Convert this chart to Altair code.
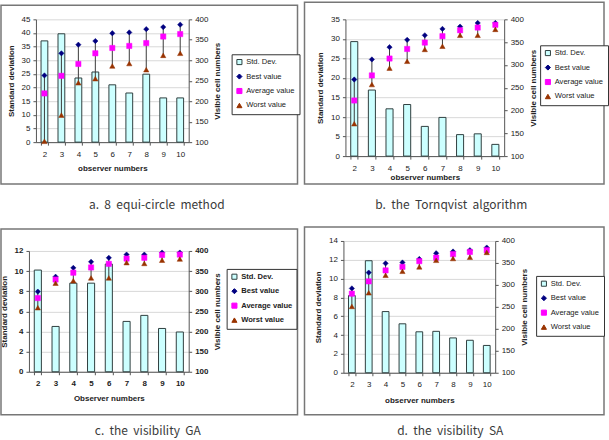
import altair as alt
import pandas as pd

FONT = "Liberation Sans"
CAPTION_FONT = "Noto Sans CJK KR"

observers = [2, 3, 4, 5, 6, 7, 8, 9, 10]

series_names = ["Std. Dev.", "Best value", "Average value", "Worst value"]
series_fill = ["#ccffff", "#000080", "#ff00ff", "#993300"]
series_stroke = ["#2f3f3f", "#000080", "#ff00ff", "#993300"]
series_shape = ["square", "diamond", "square", "triangle-up"]

# a. 8 equi-circle method
std_a = [37.1, 39.7, 23.5, 25.7, 21.0, 18.0, 24.9, 16.2, 16.2]
best_a = [263, 317, 338, 347, 366, 368, 376, 381, 387]
avg_a = [219, 262, 291, 317, 330, 335, 342, 358, 364]
worst_a = [102, 166, 245, 255, 286, 292, 277, 312, 317]

# b. the Tornqvist algorithm
std_b = [29.3, 16.9, 12.1, 13.2, 7.6, 9.9, 5.5, 5.7, 3.0]
best_b = [268, 312, 339, 355, 365, 379, 384, 392, 392]
avg_b = [222, 277, 314, 335, 349, 363, 376, 382, 388]
worst_b = [171, 257, 293, 308, 334, 341, 365, 365, 378]

# c. the visibility GA
std_c = [10.1, 4.5, 8.8, 8.8, 10.7, 5.0, 5.6, 4.3, 3.95]
best_c = [299, 336, 358, 373, 383, 391, 391, 396, 396]
avg_c = [283, 329, 346, 359, 368, 381, 383, 390, 391]
worst_c = [259, 320, 326, 333, 333, 371, 369, 377, 380]

# d. the visibility SA
std_d = [8.2, 11.9, 6.5, 5.2, 4.35, 4.4, 3.7, 3.45, 2.9]
best_d = [292, 328, 349, 351, 359, 372, 376, 379, 385]
avg_d = [280, 308, 333, 341, 354, 362, 370, 375, 379]
worst_d = [251, 282, 322, 331, 341, 356, 360, 363, 374]

right_ticks = [100, 150, 200, 250, 300, 350, 400]

NBSP = "\u00a0"


def make_panel(std, best, avg, worst, caption, W, H, plot, box, legend_xy, cap_xy,
               left_max, left_step, x_title, x_title_pad, bold=False):
    px0, py0, px1, py1 = plot
    weight = "bold" if bold else "normal"

    bars_df = pd.DataFrame({"obs": observers, "std": std, "series": series_names[0]})
    range_df = pd.DataFrame({"obs": observers, "best": best, "worst": worst})
    pts_df = pd.DataFrame({
        "obs": observers * 3,
        "value": best + avg + worst,
        "series": [series_names[1]] * 9 + [series_names[2]] * 9 + [series_names[3]] * 9,
    })

    x_scale = alt.Scale(domain=observers, range=[px0, px1], paddingInner=0.6, paddingOuter=0.3)
    left_scale = alt.Scale(domain=[0, left_max], range=[py1, py0], nice=False, zero=True)
    right_scale = alt.Scale(domain=[100, 400], range=[py1, py0], nice=False, zero=False)

    legend = alt.Legend(
        title=None, orient="none", legendX=legend_xy[0], legendY=legend_xy[1],
        strokeColor="#333333", fillColor="white", padding=4, cornerRadius=0,
        labelFont=FONT, labelFontSize=7.6, labelFontWeight=weight, labelColor="#222222",
        labelLimit=200, labelOffset=3, symbolSize=26, symbolStrokeWidth=1, rowPadding=4.5,
    )
    color = alt.Color("series:N", scale=alt.Scale(domain=series_names, range=series_fill), legend=legend)
    stroke = alt.Stroke("series:N", scale=alt.Scale(domain=series_names, range=series_stroke), legend=legend)
    shape = alt.Shape("series:N", scale=alt.Scale(domain=series_names, range=series_shape), legend=legend)

    one_row = alt.Data(values=[{"k": 0}])

    # frame around the whole panel
    border = alt.Chart(one_row).mark_rect(fillOpacity=0, stroke="#777777", strokeWidth=1.5).encode(
        x=alt.value(box[0]), x2=alt.value(box[2]), y=alt.value(box[1]), y2=alt.value(box[3])
    )

    label = alt.Chart(one_row).mark_text(
        font=CAPTION_FONT, fontSize=12, color="#3a3a3a", align="center", baseline="middle"
    ).encode(x=alt.value(cap_xy[0]), y=alt.value(cap_xy[1]),
             text=alt.value(caption.replace(" ", NBSP + NBSP)))

    axis_text = dict(
        labelFont=FONT, labelFontSize=8, labelFontWeight=weight, labelColor="#222222",
        titleFont=FONT, titleFontSize=8, titleFontWeight="bold", titleColor="#222222",
        domainColor="#555555", tickColor="#555555", tickSize=3,
    )

    x_axis = alt.Axis(
        orient="bottom", offset=-(H - py1), title=x_title, labelAngle=0,
        tickBand="extent", labelPadding=5, titlePadding=x_title_pad, **axis_text,
    )
    left_axis = alt.Axis(
        orient="left", offset=-px0, title="Standard deviation",
        values=list(range(0, left_max + 1, left_step)),
        labelPadding=3, titlePadding=6, grid=True, gridColor="#d8d8d8", **axis_text,
    )
    right_axis = alt.Axis(
        orient="right", offset=-(W - px1), title="Visible cell numbers",
        values=right_ticks, titleAngle=270, titleBaseline="top",
        labelPadding=3, titlePadding=6, grid=False, **axis_text,
    )

    x_enc = alt.X("obs:O", scale=x_scale, axis=x_axis)

    bars = alt.Chart(bars_df).mark_bar(strokeWidth=1).encode(
        x=x_enc,
        y=alt.Y("std:Q", scale=left_scale, axis=left_axis),
        color=color,
        stroke=stroke,
    )

    # high-low line from the worst to the best value
    ranges = alt.Chart(range_df).mark_rule(color="#3a3a3a", strokeWidth=1).encode(
        x=x_enc,
        y=alt.Y("best:Q", scale=right_scale, axis=right_axis),
        y2="worst:Q",
    )

    points = alt.Chart(pts_df).mark_point(filled=True, size=28, strokeWidth=0.5, opacity=1).encode(
        x=x_enc,
        y=alt.Y("value:Q", scale=right_scale, axis=right_axis),
        color=color,
        stroke=stroke,
        shape=shape,
    )

    right_side = alt.layer(ranges, points)

    return alt.layer(border, label, bars, right_side).resolve_scale(y="independent").properties(
        width=W, height=H
    )


pa = make_panel(std_a, best_a, avg_a, worst_a, "a. 8 equi-circle method", 305, 220,
                (36, 19, 189, 142), (1, 5, 298, 184), (232, 54), (157, 205),
                45, 5, "observer numbers", 6)
pb = make_panel(std_b, best_b, avg_b, worst_b, "b. the Tornqvist algorithm", 304, 220,
                (41, 19, 200, 156), (0, 2, 300, 184), (236, 45), (147, 205),
                35, 5, "observer numbers", 1)
pc = make_panel(std_c, best_c, avg_c, worst_c, "c. the visibility GA", 305, 220,
                (29, 31, 189, 152), (1, 9, 298, 195), (227, 49), (148, 211),
                12, 2, "Observer numbers", 7, bold=True)
pd_ = make_panel(std_d, best_d, avg_d, worst_d, "d. the visibility SA", 304, 220,
                 (39, 21, 191, 153), (0, 7, 300, 195), (232, 56), (146, 211),
                 14, 2, "observer numbers", 8)

chart = alt.concat(pa, pb, pc, pd_, columns=2, spacing=0, bounds="flush").resolve_scale(
    color="independent", shape="independent", stroke="independent"
).resolve_legend(
    color="independent", shape="independent", stroke="independent"
).properties(
    padding=0, background="white"
).configure(font=FONT).configure_view(strokeWidth=0)

chart.save("out.html", embed_options={"renderer": "svg", "actions": False})
